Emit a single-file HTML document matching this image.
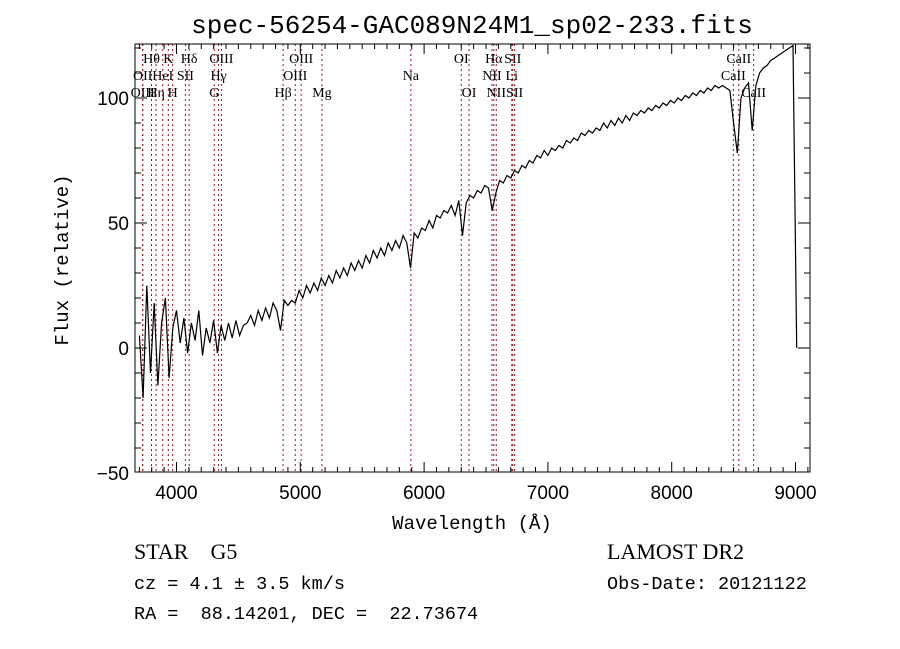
<!DOCTYPE html>
<html><head><meta charset="utf-8"><style>
html,body{margin:0;padding:0;background:#fff;}
svg{display:block;}
text{fill:#000;white-space:pre;}
</style></head><body>
<svg id="chart" width="900" height="649" viewBox="0 0 900 649" xmlns="http://www.w3.org/2000/svg" xml:space="preserve">
<rect width="900" height="649" fill="#fff"/>
<text x="472" y="33" text-anchor="middle" font-family="Liberation Mono, monospace" font-size="26">spec-56254-GAC089N24M1_sp02-233.fits</text>
<g id="lines"></g>
<g id="spec"></g>
<g id="axes"></g>
<text x="472" y="529" text-anchor="middle" font-family="Liberation Mono, monospace" font-size="19">Wavelength (Å)</text>
<text transform="translate(68,260) rotate(-90)" text-anchor="middle" font-family="Liberation Mono, monospace" font-size="19">Flux (relative)</text>
<text x="134" y="559" font-family="Liberation Serif, serif" font-size="22">STAR    G5</text>
<text x="134" y="589" font-family="Liberation Mono, monospace" font-size="18.5">cz = 4.1 ± 3.5 km/s</text>
<text x="134" y="619" font-family="Liberation Mono, monospace" font-size="18.5">RA =  88.14201, DEC =  22.73674</text>
<text x="607" y="559" font-family="Liberation Serif, serif" font-size="22">LAMOST DR2</text>
<text x="607" y="589" font-family="Liberation Mono, monospace" font-size="18.5">Obs-Date: 20121122</text>
</svg>
<script>
const fluxStart = 3700;
const fluxStep = 30;
const fluxValues = [5,-20,25,-10,18,-15,10,20,-12,8,15,
2,12,-2,10,3,15,-3,8,2,11,
-2,9,3,10,4,11,5,9,10,13,
9,15,11,16,12,18,15,7,19,17,
19,18,23,20,25,22,26,23,28,25,
29,26,31,28,32,29,34,31,35,32,
37,34,39,36,40,37,42,39,43,40,
45,42,32,46,44,48,47,51,48,53,
52,55,54,57,53,59,45,58,61,60,
63,62,65,64,55,62,67,66,69,68,
71,70,73,72,75,74,77,76,79,77,
80,79,81,80,83,82,84,83,86,85,
87,86,88,87,90,88,91,89,92,90,
93,91,94,93,95,94,96,95,97,96,
98,97,99,98,100,99,101,100,102,101,
103,102,104,103,105,104,105,104,103,90,
78,100,104,106,87,105,110,112,113,115,
116,117,118,119,120,121,0];
const lineNames = ["Hθ","K","Hδ","OIII","OIII","OI","Hα","SII","OII","HeI","SII","Hγ","OIII","Na","NII","Li","OIII","Hη","H","G","Hβ","Mg","OI","NII","SII","CaII","CaII","CaII"];
const lineWaves = [3798,3934,4102,4363,5007,6300,6563,6716,3727,3889,4072,4340,4959,5893,6548,6708,3727,3835,3969,4305,4861,5175,6363,6583,6731,8542,8498,8662];
const lineRows = [0,0,0,0,0,0,0,0,1,1,1,1,1,1,1,1,2,2,2,2,2,2,2,2,2,0,1,2];
const xTicks = [4000,5000,6000,7000,8000,9000];
const yTicks = [-50,0,50,100];

const L=135,R=810,T=44,B=472;
const xs = w => 176.5 + (w-4000)*0.1238;
const ys = v => 348 - v*2.5;
const NS="http://www.w3.org/2000/svg";
function mk(tag,attrs,parent){const e=document.createElementNS(NS,tag);for(const k in attrs)e.setAttribute(k,attrs[k]);parent.appendChild(e);return e;}

const lg=document.getElementById('lines');
lineWaves.forEach((w,i)=>{
  const x=xs(w);
  const ln=mk('line',{x1:x,x2:x,y1:T,y2:B,stroke:'#8b1a1a','stroke-width':1,'stroke-dasharray':'2,3'},lg);
  
  
  const t=mk('text',{x:x,y:63+lineRows[i]*17,'text-anchor':'middle','font-family':'Liberation Serif, serif','font-size':14},lg);
  t.textContent=lineNames[i];
  
  
});

const sg=document.getElementById('spec');
let d='';
fluxValues.forEach((v,i)=>{const w=fluxStart+i*fluxStep;d+=(i?'L':'M')+xs(w).toFixed(1)+','+ys(v).toFixed(1);});
const p=mk('path',{d:d,fill:'none',stroke:'#000','stroke-width':1.2},sg);



const ag=document.getElementById('axes');
const fr=mk('rect',{x:L,y:T,width:R-L,height:B-T,fill:'none',stroke:'#000','stroke-width':1},ag);


for(let w=3700;w<=9100;w+=100){
  const x=xs(w); if(x<L||x>R)continue;
  const len=(w%1000===0)?10:5;
  mk('line',{x1:x,x2:x,y1:B,y2:B-len,stroke:'#000'},ag);
  mk('line',{x1:x,x2:x,y1:T,y2:T+len,stroke:'#000'},ag);
}
xTicks.forEach(w=>{const t=mk('text',{x:xs(w),y:B+27,'text-anchor':'middle','font-family':'Liberation Sans, sans-serif','font-size':19},ag);t.textContent=w;

});
for(let v=-50;v<=120;v+=10){
  const y=ys(v); if(y<T||y>B)continue;
  const len=(v%50===0)?12:6;
  mk('line',{x1:L,x2:L+len,y1:y,y2:y,stroke:'#000'},ag);
  mk('line',{x1:R,x2:R-len,y1:y,y2:y,stroke:'#000'},ag);
}
yTicks.forEach(v=>{const t=mk('text',{x:L-6,y:ys(v)+7,'text-anchor':'end','font-family':'Liberation Sans, sans-serif','font-size':19},ag);t.textContent=(v<0?'\u2212'+(-v):v);

});
</script>
</body></html>
